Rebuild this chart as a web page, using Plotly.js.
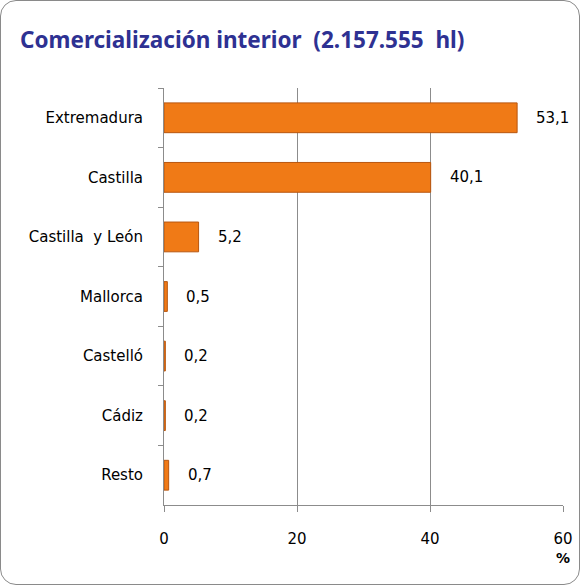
<!DOCTYPE html>
<html><head><meta charset="utf-8">
<script src="https://cdn.plot.ly/plotly-3.0.1.min.js"></script>
<style>
html,body{margin:0;padding:0;background:#fff;}
#wrap{position:relative;width:580px;height:585px;}
#frame{position:absolute;left:0;top:0;width:578px;height:583px;border:1px solid #8a8a8a;border-radius:16px;pointer-events:none;}
#chart{position:absolute;left:0;top:0;width:580px;height:585px;}
</style></head>
<body><div id="wrap"><div id="chart"></div><div id="frame"></div></div>
<script>
const categories = ["Extremadura","Castilla","Castilla  y León","Mallorca","Castelló","Cádiz","Resto"];
const values = [53.1, 40.1, 5.2, 0.5, 0.2, 0.2, 0.7];
const xTicks = [0, 20, 40, 60];
const titleText = "Comercialización interior  (2.157.555  hl)";

const font = "DejaVu Sans, Verdana, sans-serif";
const trace = {
  type: "bar", orientation: "h",
  y: categories, x: values,
  width: 0.5,
  marker: {color: "#F07A16", line: {color: "#B8560F", width: 1}},
  hoverinfo: "none"
};
const annotations = values.map((v, i) => ({
  x: v, y: categories[i], xref: "x", yref: "y",
  text: v.toFixed(1).replace(".", ","),
  showarrow: false, xanchor: "left", xshift: 17,
  font: {family: font, size: 15, color: "#000"}
}));
annotations.push({
  x: 60, y: 0, xref: "x", yref: "paper", yshift: -53,
  text: "<b>%</b>", showarrow: false, xanchor: "center", yanchor: "middle",
  font: {family: font, size: 14, color: "#000"}
});
const layout = {
  width: 580, height: 585,
  margin: {l: 164, r: 17, t: 88, b: 80},
  paper_bgcolor: "rgba(0,0,0,0)", plot_bgcolor: "rgba(0,0,0,0)",
  separators: ",.",
  showlegend: false,
  title: {text: "<b>" + titleText + "</b>", x: 20/580, xanchor: "left", xref: "container",
          y: 1 - 40/585, yanchor: "middle", yref: "container",
          font: {family: "Noto Sans, sans-serif", size: 22.5, color: "#2E3192"}},
  xaxis: {range: [0, 60], tickvals: xTicks, ticktext: xTicks.map(String),
          showgrid: true, gridcolor: "#8c8c8c", gridwidth: 1,
          zeroline: false, showline: true, linecolor: "#8c8c8c",
          ticks: "outside", ticklen: 6, tickcolor: "#8c8c8c",
          ticklabelstandoff: 14,
          tickfont: {family: font, size: 15, color: "#000"}, fixedrange: true},
  yaxis: {autorange: "reversed", type: "category", tickson: "boundaries",
          showline: true, linecolor: "#8c8c8c", showgrid: false, zeroline: false,
          ticks: "outside", ticklen: 5, tickcolor: "#8c8c8c",
          ticklabelstandoff: 17,
          tickfont: {family: font, size: 15, color: "#000"}, fixedrange: true},
  annotations: annotations
};
Plotly.newPlot("chart", [trace], layout, {displayModeBar: false, staticPlot: true});
</script></body></html>
